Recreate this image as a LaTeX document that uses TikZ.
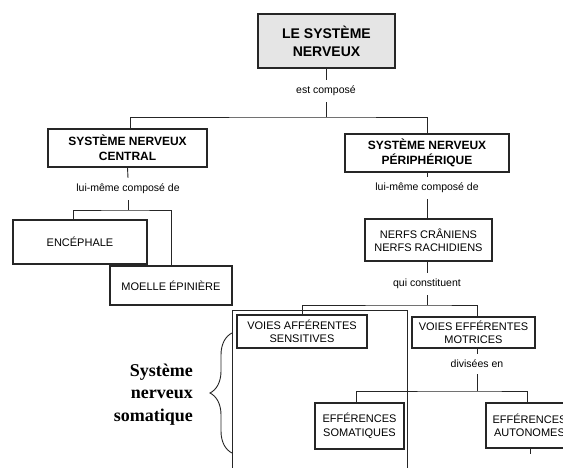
\documentclass[tikz,border=0pt]{standalone}
\usepackage{fontspec}
\setmainfont{Liberation Sans}
\newfontfamily\sidefont{Liberation Serif}
\usetikzlibrary{decorations.pathreplacing}

\begin{document}
\begin{tikzpicture}[x=1pt,y=-1pt,
  conn/.style={draw=black!85, line width=0.9pt},
  box/.style={draw=black!85, line width=1.1pt, inner sep=0pt, align=center,
    font=\fontsize{11}{13.5}\selectfont},
  titlebox/.style={box, font=\bfseries\fontsize{12}{15}\selectfont},
  rootbox/.style={box, line width=2.2pt, fill=black!10,
    font=\bfseries\fontsize{14}{18}\selectfont},
  lbl/.style={inner xsep=2pt, inner ysep=6pt, font=\fontsize{10.5}{12}\selectfont},
  sidenote/.style={inner sep=0pt, align=right,
    font=\sidefont\bfseries\fontsize{18}{22.5}\selectfont},
]
\useasboundingbox (0,0) rectangle (563,468);
\clip (0,0) rectangle (563,468);

% boxes
\node[rootbox, minimum width=137pt, minimum height=54pt] (root) at (326.5,41) {LE SYSTÈME\\NERVEUX};
\node[titlebox, minimum width=159pt, minimum height=38pt] (snc) at (127.5,148) {SYSTÈME NERVEUX\\CENTRAL};
\node[titlebox, minimum width=164pt, minimum height=38pt] (snp) at (427,153) {SYSTÈME NERVEUX\\PÉRIPHÉRIQUE};
\node[box, minimum width=134pt, minimum height=44pt] (enc) at (80,242) {ENCÉPHALE};
\node[box, minimum width=122pt, minimum height=39pt] (moe) at (171,285.5) {MOELLE ÉPINIÈRE};
\node[box, minimum width=127pt, minimum height=42pt] (nerfs) at (428.5,240) {NERFS CRÂNIENS\\NERFS RACHIDIENS};
\node[box, minimum width=130pt, minimum height=33pt] (aff) at (302,331.5) {VOIES AFFÉRENTES\\SENSITIVES};
\node[box, minimum width=123pt, minimum height=31pt] (eff) at (473.5,332.5) {VOIES EFFÉRENTES\\MOTRICES};
\node[box, minimum width=89pt, minimum height=46pt] (som) at (359.5,426) {EFFÉRENCES\\SOMATIQUES};
\node[box, minimum width=87pt, minimum height=45pt] (aut) at (529.5,425.5) {EFFÉRENCES\\AUTONOMES};

% connector labels
\node[lbl] (l1) at (326,91) {est composé};
\node[lbl] (l2) at (128,189) {lui-même composé de};
\node[lbl] (l3) at (427,188) {lui-même composé de};
\node[lbl] (l4) at (427,284) {qui constituent};
\node[lbl] (l5) at (477,364) {divisées en};

% junction points
\coordinate (j1) at (326,117);
\coordinate (j2) at (128,210);
\coordinate (j4) at (427,305);
\coordinate (j5) at (477,391);

% connectors
\draw[conn] (root.south -| l1) -- (l1.north);
\draw[conn] (l1.south) -- (j1);
\draw[conn] ([xshift=2.5pt]snc.north) |- (j1) -| (snp.north);

\draw[conn] (snc.south) -- (l2.north);
\draw[conn] (l2.south) -- (j2);
\draw[conn] ([xshift=-7pt]enc.north) |- (j2) -| (moe.north);

\draw[conn] (snp.south) -- (l3.north);
\draw[conn] (l3.south) -- (nerfs.north -| l3);

\draw[conn] (nerfs.south -| l4) -- (l4.north);
\draw[conn] (l4.south) -- (j4);
\draw[conn] (aff.north) |- (j4) -| ([xshift=3.5pt]eff.north);

\draw[conn] (eff.south -| l5) -- (l5.north);
\draw[conn] (l5.south) -- (j5);
\draw[conn] ([xshift=-3.5pt]som.north) |- (j5) -| ([xshift=-2.5pt]aut.north);
\coordinate (autstub) at ([xshift=0.5pt,yshift=-5pt]aut.south);
\draw[conn] ([xshift=0.5pt]aut.south) -- (autstub);

% frame around the somatic pathways
\draw[conn, line width=1pt] (232,470) -- (232,310) -- (407,310) -- (407,470);

% brace and its caption
\draw[conn, decorate, decoration={brace, amplitude=22pt, aspect=0.5}] (232,453) -- (232,333);
\node[sidenote, anchor=east] (somatique) at (193,394.5) {Système\\nerveux\\somatique};
\end{tikzpicture}
\end{document}
